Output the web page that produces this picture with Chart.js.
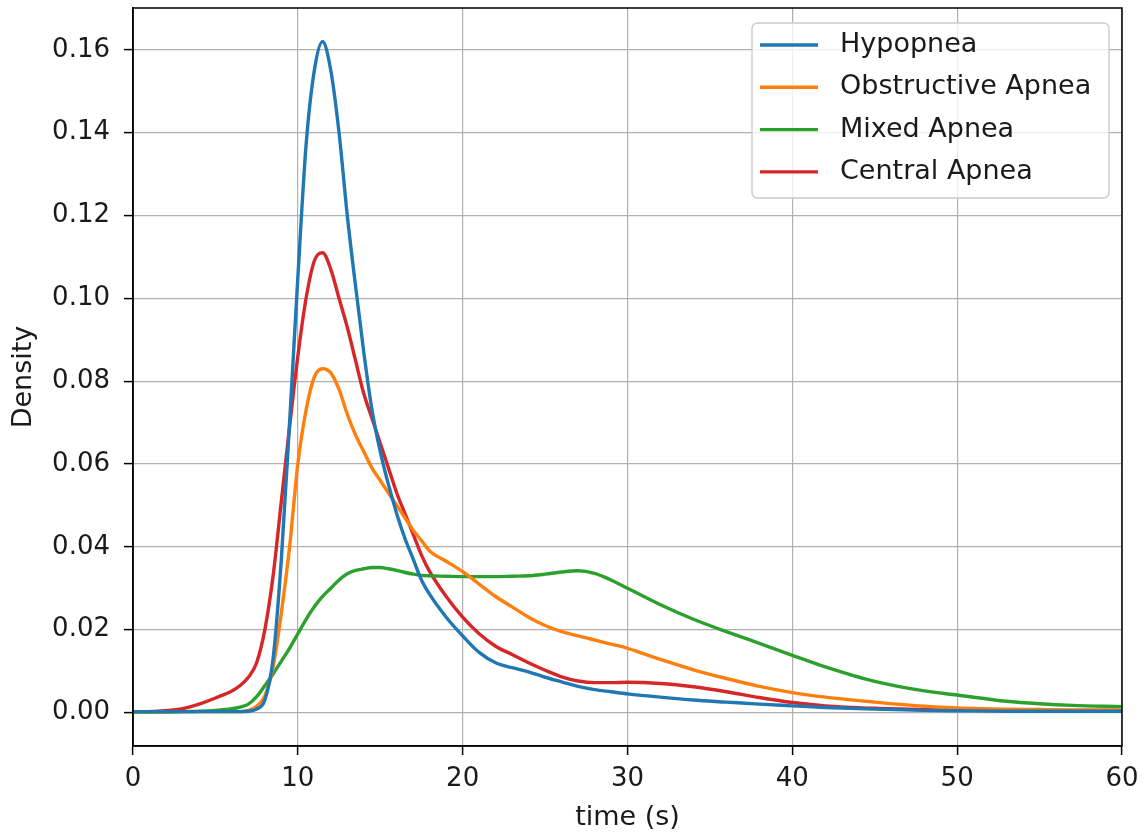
<!DOCTYPE html>
<html>
<head>
<meta charset="utf-8">
<script src="https://cdn.jsdelivr.net/npm/chart.js@4/dist/chart.umd.min.js"></script>
<style>
html,body{margin:0;padding:0;background:#fff;}
canvas{display:block;}
</style>
</head>
<body>
<canvas id="c" width="1145" height="834"></canvas>
<script>
const timeS = [0,1,2,3,4,5,6,6.5,7,7.5,8,8.5,9,9.5,10,10.5,11,11.5,12,12.5,13,13.5,14,14.5,15,15.5,16,16.5,17,17.5,18,19,20,21,22,23,24,25,26,27,28,29,30,32,34,36,38,40,42,45,48,50,53,55,57,60];

const hypopnea = [0.0002,0.0002,0.0002,0.0002,0.0002,0.0002,0.0002,0.0002,0.0003,0.0008,0.003,0.013,0.037,0.07,0.105,0.137,0.155,0.162,0.155,0.14,0.12,0.103,0.087,0.073,0.063,0.055,0.048,0.042,0.037,0.032,0.0285,0.023,0.0185,0.0145,0.012,0.0108,0.0098,0.0085,0.0074,0.0063,0.0055,0.005,0.0045,0.0037,0.003,0.0025,0.002,0.0016,0.0012,0.0008,0.0005,0.0004,0.0003,0.0003,0.0003,0.0003];

const obstructive = [0.0002,0.0002,0.0002,0.0002,0.0002,0.0002,0.0002,0.0002,0.0005,0.0015,0.004,0.011,0.024,0.04,0.06,0.073,0.081,0.083,0.082,0.078,0.072,0.067,0.063,0.059,0.056,0.053,0.05,0.047,0.044,0.0415,0.039,0.0365,0.034,0.031,0.028,0.0255,0.023,0.021,0.0195,0.0185,0.0175,0.0165,0.0155,0.0128,0.0103,0.0082,0.0063,0.0048,0.0037,0.0025,0.0015,0.0011,0.0008,0.0007,0.0006,0.0006];

const mixed = [0.0001,0.0001,0.0001,0.0002,0.0003,0.0005,0.0009,0.0013,0.002,0.0038,0.0065,0.0093,0.0124,0.0155,0.019,0.0225,0.0255,0.028,0.03,0.032,0.0335,0.0343,0.0347,0.035,0.035,0.0347,0.0343,0.0338,0.0334,0.0331,0.033,0.0329,0.0328,0.0328,0.0328,0.0329,0.033,0.0334,0.0339,0.0342,0.0336,0.032,0.03,0.026,0.0225,0.0195,0.0167,0.0138,0.011,0.0075,0.0052,0.0042,0.0027,0.0021,0.0017,0.0014];

const central = [0.0002,0.0002,0.0004,0.0009,0.002,0.0035,0.0052,0.0065,0.0085,0.012,0.02,0.033,0.051,0.069,0.086,0.1,0.109,0.111,0.107,0.1,0.093,0.085,0.077,0.071,0.065,0.059,0.053,0.048,0.043,0.038,0.034,0.028,0.023,0.019,0.016,0.014,0.012,0.0102,0.0086,0.0076,0.0072,0.0072,0.0073,0.007,0.0062,0.005,0.0036,0.0024,0.0016,0.001,0.0007,0.0006,0.0005,0.0005,0.0005,0.0005];

const seriesNames = ['Hypopnea','Obstructive Apnea','Mixed Apnea','Central Apnea'];
const seriesColors = ['#1f77b4','#ff7f0e','#2ca02c','#d62728'];
const seriesValues = [hypopnea, obstructive, mixed, central];

const xTicks = [0,10,20,30,40,50,60];
const yTicks = [0,0.02,0.04,0.06,0.08,0.10,0.12,0.14,0.16];

const FONT = 'DejaVu Sans';

const datasets = seriesValues.map((vals,i)=>({
  label: seriesNames[i],
  data: vals.map((v,j)=>({x:timeS[j], y:v})),
  borderColor: seriesColors[i],
  backgroundColor: seriesColors[i],
  borderWidth: 3.4,
  pointRadius: 0,
  cubicInterpolationMode: 'monotone',
  fill: false
}));

const framePlugin = {
  id: 'frame',
  afterDraw(chart){
    const {ctx, chartArea:a} = chart;
    ctx.save();
    ctx.strokeStyle = '#000';
    ctx.lineWidth = 1.5;
    ctx.strokeRect(a.left, a.top, a.right-a.left, a.bottom-a.top);
    // legend
    const bx=752, by=23, bw=357, bh=175, r=6;
    ctx.beginPath();
    ctx.moveTo(bx+r,by);
    ctx.lineTo(bx+bw-r,by); ctx.quadraticCurveTo(bx+bw,by,bx+bw,by+r);
    ctx.lineTo(bx+bw,by+bh-r); ctx.quadraticCurveTo(bx+bw,by+bh,bx+bw-r,by+bh);
    ctx.lineTo(bx+r,by+bh); ctx.quadraticCurveTo(bx,by+bh,bx,by+bh-r);
    ctx.lineTo(bx,by+r); ctx.quadraticCurveTo(bx,by,bx+r,by);
    ctx.closePath();
    ctx.fillStyle='rgba(255,255,255,0.8)';
    ctx.fill();
    ctx.strokeStyle='#cccccc';
    ctx.lineWidth=1.4;
    ctx.stroke();
    chart.data.datasets.forEach((ds,i)=>{
      const yy = 45 + i*42.3;
      ctx.beginPath();
      ctx.strokeStyle = ds.borderColor;
      ctx.lineWidth = 3.4;
      ctx.moveTo(760,yy); ctx.lineTo(818,yy);
      ctx.stroke();
      ctx.fillStyle='#1a1a1a';
      ctx.font = '27px "'+FONT+'"';
      ctx.textBaseline='middle';
      ctx.textAlign='left';
      ctx.fillText(ds.label, 840, yy);
    });
    ctx.restore();
  }
};

new Chart(document.getElementById('c'), {
  type: 'line',
  data: { datasets },
  plugins: [framePlugin],
  options: {
    responsive: false,
    animation: false,
    layout: { padding: { left: 0, right: 23, top: 8, bottom: 0 } },
    plugins: { legend: { display: false }, tooltip: { enabled: false } },
    scales: {
      x: {
        type: 'linear',
        min: 0, max: 60,
        afterBuildTicks(s){ s.ticks = xTicks.map(v=>({value:v})); },
        afterFit(s){ s.height = 88; s.paddingLeft = 0; s.paddingRight = 0; },
        grid: { color: '#b0b0b0', lineWidth: 1.2, tickColor: '#000', tickLength: 9, tickWidth: 1.5, drawOnChartArea: true },
        border: { color: '#000', width: 1.5 },
        ticks: { color: '#1a1a1a', font: { family: FONT, size: 26 }, padding: 9, maxRotation: 0,
                 callback: v => String(v) },
        title: { display: true, text: 'time (s)', color: '#1a1a1a', font: { family: FONT, size: 27 }, padding: { top: 0, bottom: 0 } }
      },
      y: {
        type: 'linear',
        min: -0.0081, max: 0.1701,
        afterBuildTicks(s){ s.ticks = yTicks.map(v=>({value:v})); },
        afterFit(s){ s.width = 133; s.paddingTop = 0; s.paddingBottom = 0; },
        grid: { color: '#b0b0b0', lineWidth: 1.2, tickColor: '#000', tickLength: 9, tickWidth: 1.5 },
        border: { color: '#000', width: 1.5 },
        ticks: { color: '#1a1a1a', font: { family: FONT, size: 26 }, padding: 14,
                 callback: v => Number(v).toFixed(2) },
        title: { display: true, text: 'Density', color: '#1a1a1a', font: { family: FONT, size: 27 }, padding: { top: 8, bottom: 0 } }
      }
    }
  }
});
</script>
</body>
</html>
